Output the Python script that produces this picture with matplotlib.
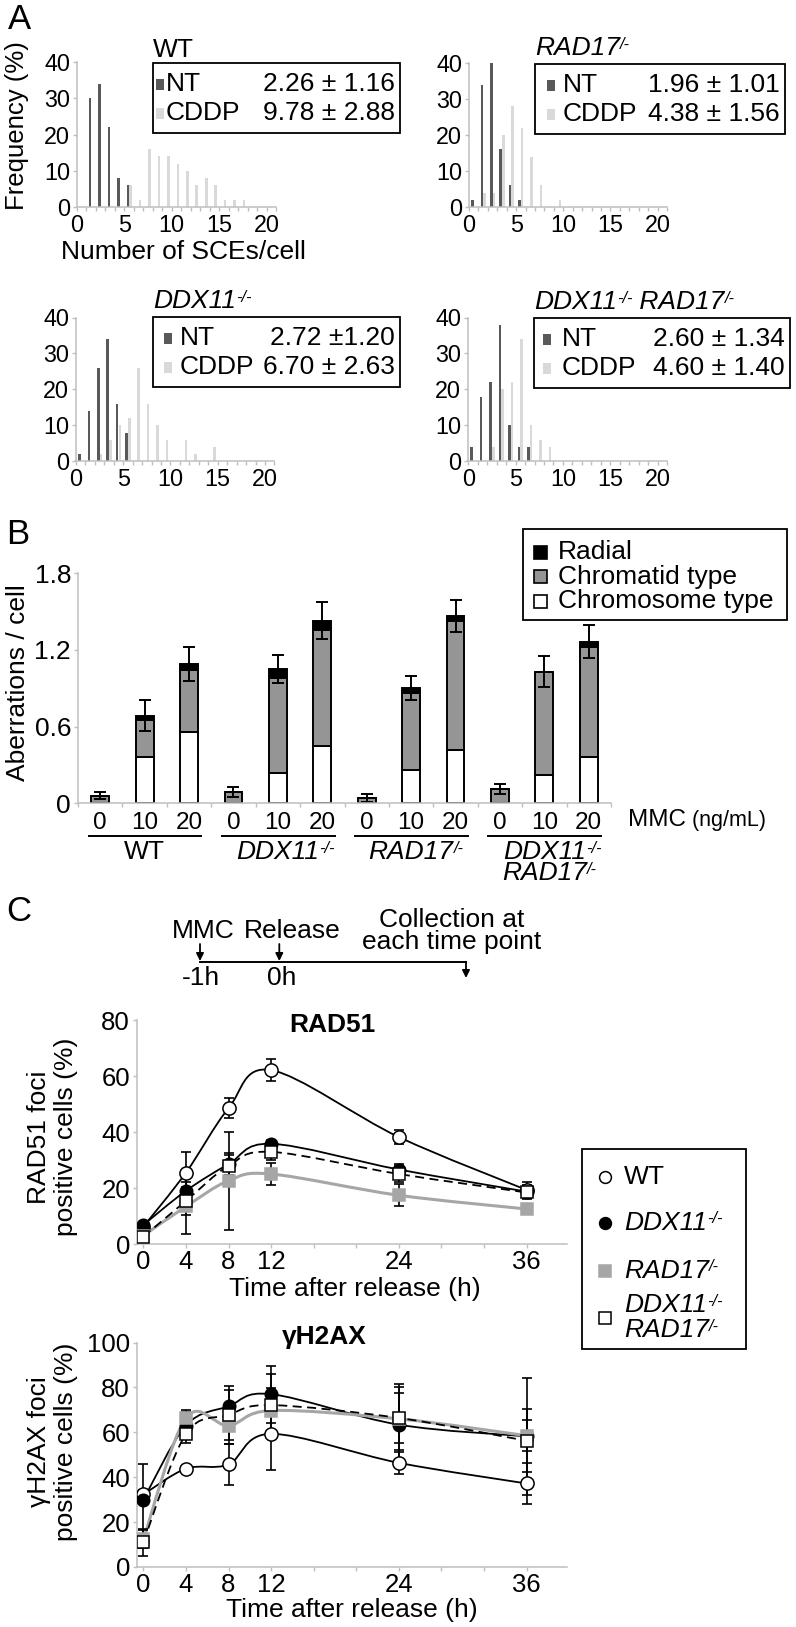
import numpy as np
import matplotlib.pyplot as plt
from matplotlib.path import Path
from matplotlib.patches import PathPatch, Rectangle

plt.rcParams['font.family'] = ['Liberation Sans', 'DejaVu Sans']

## Panel A : SCE distributions (% of cells per number of SCEs/cell)
sce = np.arange(21)
wt_nt      = [0, 30, 34, 22, 8, 6, 0, 0, 0, 0, 0, 0, 0, 0, 0, 0, 0, 0, 0, 0, 0]
wt_cddp    = [0, 0, 0, 0, 0, 6, 2, 16, 14, 14, 12, 10, 6, 8, 6, 2, 2, 2, 0, 0, 0]
rad17_nt   = [2, 34, 40, 16, 6, 2, 0, 0, 0, 0, 0, 0, 0, 0, 0, 0, 0, 0, 0, 0, 0]
rad17_cddp = [0, 4, 4, 20, 28, 22, 14, 6, 0, 2, 0, 0, 0, 0, 0, 0, 0, 0, 0, 0, 0]
ddx11_nt   = [2, 14, 26, 34, 16, 8, 0, 0, 0, 0, 0, 0, 0, 0, 0, 0, 0, 0, 0, 0, 0]
ddx11_cddp = [0, 0, 2, 6, 10, 12, 26, 16, 10, 6, 0, 6, 2, 0, 4, 0, 0, 0, 0, 0, 0]
dr_nt      = [4, 18, 22, 38, 10, 4, 4, 0, 0, 0, 0, 0, 0, 0, 0, 0, 0, 0, 0, 0, 0]
dr_cddp    = [0, 0, 4, 20, 22, 34, 10, 6, 4, 0, 0, 0, 0, 0, 0, 0, 0, 0, 0, 0, 0]
sce_stats = {
    'WT':    ['2.26 ± 1.16', '9.78 ± 2.88'],
    'RAD17': ['1.96 ± 1.01', '4.38 ± 1.56'],
    'DDX11': ['2.72 ±1.20', '6.70 ± 2.63'],
    'DR':    ['2.60 ± 1.34', '4.60 ± 1.40'],
}

## Panel B : aberrations / cell (stacked)
doses = ['0', '10', '20'] * 4
chromosome = [0.00, 0.36, 0.56, 0.00, 0.24, 0.45, 0.00, 0.26, 0.42, 0.00, 0.22, 0.36]
chromatid  = [0.06, 0.29, 0.48, 0.09, 0.74, 0.91, 0.04, 0.60, 1.01, 0.11, 0.81, 0.86]
radial     = [0.00, 0.035, 0.05, 0.00, 0.07, 0.07, 0.00, 0.045, 0.035, 0.00, 0.00, 0.045]
err_b      = [0.03, 0.12, 0.13, 0.04, 0.11, 0.145, 0.03, 0.095, 0.125, 0.04, 0.12, 0.13]

## Panel C : foci positive cells (%)
times = [0, 4, 8, 12, 24, 36]
rad51_wt    = [6.2, 25.5, 48.5, 62.1, 38.2, 19.3]
rad51_wt_e  = [1, 7.5, 3.5, 4, 2.5, 3]
rad51_dx    = [6.8, 19.0, 28.5, 35.8, 26.6, 18.7]
rad51_dx_e  = [1, 3, 4, 1.5, 2, 2.5]
rad51_r17   = [3.0, 13.4, 22.6, 25.0, 17.4, 12.5]
rad51_r17_e = [1, 10, 17.5, 4, 4, 1]
rad51_dr    = [2.6, 15.4, 27.9, 32.9, 25.0, 18.4]
rad51_dr_e  = [1, 5, 4, 3, 3, 2]

h2ax_wt    = [32.3, 43.8, 45.7, 59.3, 46.4, 37.2]
h2ax_wt_e  = [2, 1, 9, 16, 5, 9]
h2ax_dx    = [30.0, 63.0, 71.6, 77.0, 63.4, 58.2]
h2ax_dx_e  = [16, 6, 9, 12.7, 18, 26]
h2ax_r17   = [12.3, 66.4, 63.0, 69.7, 66.0, 58.5]
h2ax_r17_e = [4, 3.5, 8, 10, 14, 7]
h2ax_dr    = [11.1, 59.3, 67.7, 72.1, 66.4, 56.2]
h2ax_dr_e  = [6, 4, 11, 14, 11, 14]

W, H = 796, 1627
fig = plt.figure(figsize=(W / 100, H / 100), dpi=100)

GRAY_AX = '#bfbfbf'
C_NT, C_CDDP = '#595959', '#d9d9d9'
C_CHROMATID = '#959595'
C_R17 = '#a6a6a6'

DDX = [('DDX11', False), ('-/-', True)]
R17 = [('RAD17', False), ('/-', True)]


def pxbox(l, t, r, b):
    return [l / W, 1 - b / H, (r - l) / W, (b - t) / H]


def style_axes(ax, size):
    for s in ('top', 'right'):
        ax.spines[s].set_visible(False)
    for s in ('left', 'bottom'):
        ax.spines[s].set_color(GRAY_AX)
        ax.spines[s].set_linewidth(1.1)
    ax.tick_params(which='both', direction='out', color=GRAY_AX, length=3,
                   width=1, labelsize=size, pad=2)
    ax.patch.set_alpha(0)


def gene_label(ax, x, y, parts, size=19, ha='left', va='center', transform=None):
    # italic gene name with small italic superscript genotype
    base = prev = None
    for txt, sup in parts:
        if prev is None:
            kw = {} if transform is None else {'transform': transform}
            prev = ax.text(x, y, txt, fontsize=size, style='italic', ha=ha, va=va, **kw)
            base = prev
        elif sup:
            prev = ax.annotate(txt, xy=(1, 0.97), xycoords=(prev, base), fontsize=size * 0.62,
                               style='italic', ha='left', va='top')
        else:
            prev = ax.annotate(txt, xy=(1, 0), xycoords=(prev, base), fontsize=size,
                               style='italic', ha='left', va='bottom')


def hist_axes(box, nt, cddp):
    ax = fig.add_axes(pxbox(*box))
    ax.bar(sce + 0.36, nt, width=0.27, color=C_NT)
    ax.bar(sce + 0.64, cddp, width=0.27, color=C_CDDP)
    ax.set_xlim(0, 21)
    ax.set_ylim(0, 40)
    ax.set_xticks([0, 5, 10, 15, 20])
    ax.set_xticks(np.arange(22), minor=True)
    ax.set_yticks([0, 10, 20, 30, 40])
    style_axes(ax, 16.8)
    return ax


hist_axes((77, 62, 276, 207), wt_nt, wt_cddp)
hist_axes((469, 63, 667, 207), rad17_nt, rad17_cddp)
hist_axes((76, 317.5, 274.4, 461.3), ddx11_nt, ddx11_cddp)
hist_axes((468.3, 317.5, 667, 461.3), dr_nt, dr_cddp)

# panel B
axB = fig.add_axes(pxbox(78, 573.3, 611, 803.3))
pos = np.arange(len(doses))
bot2 = np.add(chromosome, chromatid)
total = bot2 + np.array(radial)
axB.bar(pos, chromosome, width=0.4, color='white', edgecolor='k', lw=1.4)
axB.bar(pos, chromatid, width=0.4, bottom=chromosome, color=C_CHROMATID, edgecolor='k', lw=1.4)
axB.bar(pos, radial, width=0.4, bottom=bot2, color='k', edgecolor='k', lw=1.4)
axB.errorbar(pos, total, yerr=err_b, fmt='none', ecolor='k', elinewidth=1.4,
             capsize=4, capthick=1.4)
axB.set_xlim(-0.5, 11.5)
axB.set_ylim(0, 1.8)
axB.set_yticks([0, 0.6, 1.2, 1.8])
axB.set_yticklabels(['0', '0.6', '1.2', '1.8'])
axB.set_xticks(pos)
axB.set_xticklabels(doses)
axB.set_xticks(np.arange(-0.5, 12, 1), minor=True)
style_axes(axB, 19)
axB.tick_params(axis='x', which='major', length=0, labelsize=17.5, pad=6)


def yfrac(ax_top, ax_bot, py):
    return (ax_bot - py) / (ax_bot - ax_top)


tB = axB.get_xaxis_transform()
for g in range(4):
    x0, x1 = 3 * g - 0.26, 3 * g + 2 + 0.28
    axB.plot([x0, x1], [yfrac(573.3, 803.3, 836)] * 2, color='k', lw=1.4,
             transform=tB, clip_on=False)
axB.text(1, yfrac(573.3, 803.3, 852), 'WT', transform=tB, ha='center', va='center', fontsize=19)
gene_label(axB, 4, yfrac(573.3, 803.3, 852), DDX, ha='center', transform=tB)
gene_label(axB, 7, yfrac(573.3, 803.3, 852), R17, ha='center', transform=tB)
gene_label(axB, 10, yfrac(573.3, 803.3, 852), DDX, ha='center', transform=tB)
gene_label(axB, 10, yfrac(573.3, 803.3, 873), R17, ha='center', transform=tB)


# panel C
def smooth_line(ax, x, y, **kw):
    pts = np.column_stack([x, y]).astype(float)
    n = len(pts)
    verts, codes = [pts[0]], [Path.MOVETO]
    for i in range(n - 1):
        p0, p1 = pts[max(i - 1, 0)], pts[i]
        p2, p3 = pts[i + 1], pts[min(i + 2, n - 1)]
        verts += [p1 + (p2 - p0) / 6, p2 - (p3 - p1) / 6, p2]
        codes += [Path.CURVE4] * 3
    ax.add_patch(PathPatch(Path(verts, codes), fill=False, **kw))


def time_axes(box, ymax, series):
    ax = fig.add_axes(pxbox(*box))
    for vals, errs, lstyle, lcol, lw, mk, mfc, ms in series:
        smooth_line(ax, times, vals, edgecolor=lcol, lw=lw, linestyle=lstyle, zorder=2)
        ax.errorbar(times, vals, yerr=errs, fmt='none', ecolor='k', elinewidth=1.2,
                    capsize=3.5, capthick=1.2, zorder=3)
    for vals, errs, lstyle, lcol, lw, mk, mfc, ms in series:
        mec = C_R17 if mfc == C_R17 else 'k'
        ax.plot(times, vals, ls='none', marker=mk, ms=ms, mfc=mfc, mec=mec,
                mew=1.1, zorder=4)
    ax.set_xlim(-0.6, 39.8)
    ax.set_ylim(0, ymax)
    ax.set_xticks(times)
    ax.set_xticks(np.arange(0, 40, 4), minor=True)
    ax.set_yticks(np.arange(0, ymax + 1, 20))
    style_axes(ax, 18.5)
    ax.tick_params(axis='x', pad=1)
    return ax


rad51 = [
    (rad51_wt, rad51_wt_e, '-', 'k', 1.3, 'o', 'white', 9.5),
    (rad51_dx, rad51_dx_e, '-', 'k', 1.3, 'o', 'k', 9),
    (rad51_r17, rad51_r17_e, '-', C_R17, 2.2, 's', C_R17, 8.5),
    (rad51_dr, rad51_dr_e, (0, (5, 3)), 'k', 1.3, 's', 'white', 9),
]
h2ax = [
    (h2ax_wt, h2ax_wt_e, '-', 'k', 1.3, 'o', 'white', 9.5),
    (h2ax_dx, h2ax_dx_e, '-', 'k', 1.3, 'o', 'k', 9),
    (h2ax_r17, h2ax_r17_e, '-', C_R17, 2.2, 's', C_R17, 8.5),
    (h2ax_dr, h2ax_dr_e, (0, (5, 3)), 'k', 1.3, 's', 'white', 9),
]
time_axes((137, 1020, 567, 1244), 80, rad51)
time_axes((137, 1342.5, 567, 1567), 100, h2ax)

# overlay in pixel coordinates for texts, boxes and keys
ov = fig.add_axes([0, 0, 1, 1])
ov.set_xlim(0, W)
ov.set_ylim(H, 0)
ov.axis('off')
ov.patch.set_alpha(0)
ov.set_zorder(10)

for letter, x, y in (('A', 19, 19), ('B', 18, 534), ('C', 19, 911)):
    ov.text(x, y, letter, fontsize=25, ha='center', va='center')

ov.text(17, 126, 'Frequency (%)', rotation=90, fontsize=18.5, ha='center', va='center')
ov.text(183, 252, 'Number of SCEs/cell', fontsize=19, ha='center', va='center')

sce_boxes = [
    ([('WT', False)], 'WT', 153, 400, 63, 160, 166),
    (R17, 'RAD17', 535, 785, 64, 551, 563),
    (DDX, 'DDX11', 153, 400, 317, 168, 180),
    (DDX + [(' RAD17', False), ('/-', True)], 'DR', 534, 790, 318, 547, 562),
]
for title, key, x0, x1, y0, mx, tx in sce_boxes:
    if key == 'WT':
        ov.text(x0, y0 - 6, 'WT', fontsize=19, ha='left', va='baseline')
    else:
        gene_label(ov, x0, y0 - 4, title, ha='left', va='bottom')
    ov.add_patch(Rectangle((x0, y0), x1 - x0, 70, fill=False, ec='k', lw=1.3))
    for k, (lab, col) in enumerate((('NT', C_NT), ('CDDP', C_CDDP))):
        yy = y0 + 21 + 29 * k
        ov.add_patch(Rectangle((mx - 4, yy - 5.5), 8, 11, color=col, lw=0))
        ov.text(tx, yy, lab, fontsize=19, ha='left', va='center')
        ov.text(x1 - 5, yy, sce_stats[key][k], fontsize=19, ha='right', va='center')

ov.text(18, 683, 'Aberrations / cell', rotation=90, fontsize=19, ha='center', va='center')
mmc = ov.text(628, 820, 'MMC', fontsize=17.5, ha='left', va='center')
ov.annotate(' (ng/mL)', xy=(1, 0.5), xycoords=mmc, fontsize=15.5, ha='left', va='center')
ov.add_patch(Rectangle((522.7, 529), 264, 91, fill=False, ec='k', lw=1.3))
for k, (lab, col) in enumerate((('Radial', 'k'), ('Chromatid type', C_CHROMATID),
                                ('Chromosome type', 'white'))):
    yy = 552 + 24.6 * k
    ov.add_patch(Rectangle((534, yy - 6.5), 13, 13, fc=col, ec='k', lw=1.2))
    ov.text(558, yy, lab, fontsize=19, ha='left', va='center')

# MMC treatment scheme
ov.plot([200, 466], [961.7, 961.7], color='k', lw=1.4)
for xa, ya0, ya1 in ((200, 944, 961), (279.3, 944, 961), (466, 961.7, 978)):
    ov.annotate('', xy=(xa, ya1), xytext=(xa, ya0),
                arrowprops=dict(arrowstyle='-|>', color='k', lw=1.3,
                                mutation_scale=11, shrinkA=0, shrinkB=0))
ov.text(203, 931, 'MMC', fontsize=19, ha='center', va='center')
ov.text(292, 931, 'Release', fontsize=19, ha='center', va='center')
ov.text(201, 978, '-1h', fontsize=19, ha='center', va='center')
ov.text(282, 978, '0h', fontsize=19, ha='center', va='center')
ov.text(452, 920, 'Collection at', fontsize=19, ha='center', va='center')
ov.text(452, 942, 'each time point', fontsize=19, ha='center', va='center')

ov.text(332, 1025, 'RAD51', fontsize=19, fontweight='bold', ha='center', va='center')
ov.text(324, 1337, 'γH2AX', fontsize=19, fontweight='bold', ha='center', va='center')
ov.text(52.5, 1137, 'RAD51 foci\npositive cells (%)', rotation=90, fontsize=19,
        ha='center', va='center')
ov.text(52.5, 1442, 'γH2AX foci\npositive cells (%)', rotation=90, fontsize=19,
        ha='center', va='center')
ov.text(355, 1289, 'Time after release (h)', fontsize=19, ha='center', va='center')
ov.text(352, 1610, 'Time after release (h)', fontsize=19, ha='center', va='center')

ov.add_patch(Rectangle((581.7, 1149.3), 164.3, 200, fill=False, ec='k', lw=1.3))
keys = [('o', 'white', 'k', 1176.7), ('o', 'k', 'k', 1222.7),
        ('s', C_R17, C_R17, 1270.7), ('s', 'white', 'k', 1318)]
for mk, fc, ec, yy in keys:
    ov.plot([605], [yy], marker=mk, ms=8.5, mfc=fc, mec=ec, mew=1.1, ls='none')
ov.text(624, 1176.7, 'WT', fontsize=19, ha='left', va='center')
gene_label(ov, 624, 1222.7, DDX)
gene_label(ov, 624, 1270.7, R17)
gene_label(ov, 624, 1305, DDX)
gene_label(ov, 624, 1330, R17)

fig.savefig('out.png', dpi=100)
